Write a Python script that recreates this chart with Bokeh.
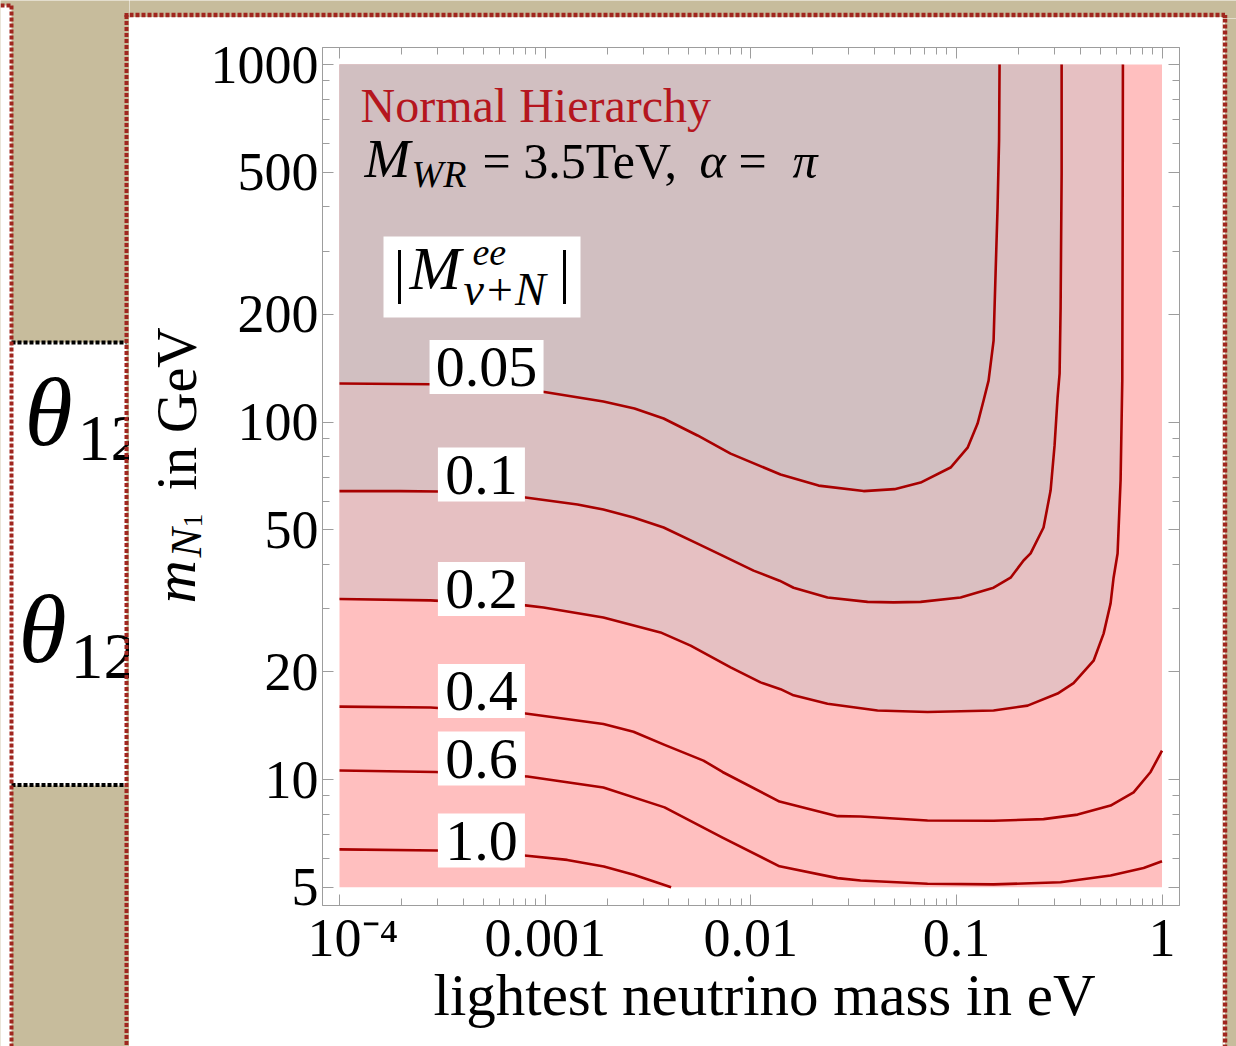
import math
from bokeh.plotting import figure
from bokeh.models import Range1d, LogAxis, FixedTicker, Label, BoxAnnotation
from bokeh.layouts import row, column
from bokeh.embed import file_html
from bokeh.resources import INLINE
from bokeh.core.properties import value

# ---------------------------------------------------------------- data
x_domain = [1e-4, 1.0]        # lightest neutrino mass in eV
y_domain = [5.0, 1000.0]      # m_N1 in GeV

contour_levels = ["0.05", "0.1", "0.2", "0.4", "0.6", "1.0"]

c005_x = [1.0e-4, 1.98e-4, 3.88e-4, 9.93e-4, 1.92e-3, 2.72e-3, 3.77e-3, 5.51e-3, 7.98e-3,
          0.01396, 0.02137, 0.03537, 0.05004, 0.06699, 0.09371, 0.1134, 0.1268, 0.1356,
          0.1434, 0.1517, 0.1551, 0.1586, 0.1613, 0.1622]
c005_y = [128.2, 127.8, 127.3, 121.3, 114.1, 109.1, 102.3, 91.7, 81.6,
          71.3, 66.4, 64.1, 64.9, 67.7, 74.6, 84.8, 99.0, 114.9,
          130.6, 169.0, 260.3, 398.0, 613.0, 1000.0]

c01_x = [1.0e-4, 1.98e-4, 3.03e-4, 8.03e-4, 1.437e-3, 1.92e-3, 2.69e-3, 3.77e-3, 5.51e-3,
         7.29e-3, 0.01032, 0.0138, 0.01615, 0.02363, 0.03699, 0.0495, 0.067, 0.1048,
         0.1517, 0.1835, 0.2122, 0.2296, 0.2654, 0.2872, 0.3003, 0.3106, 0.3177, 0.3213,
         0.325, 0.325]
c01_y = [64.1, 64.1, 63.9, 61.5, 58.8, 56.9, 54.1, 50.7, 45.7,
         42.3, 38.4, 36.0, 34.4, 32.3, 31.4, 31.3, 31.4, 32.3,
         34.4, 36.7, 41.0, 42.9, 50.7, 64.3, 86.0, 117.1, 136.7, 209.0,
         496.0, 1000.0]

c02_x = [1.0e-4, 2.77e-4, 8.03e-4, 9.82e-4, 1.92e-3, 3.64e-3, 5.10e-3, 7.98e-3, 0.01116,
         0.01396, 0.01615, 0.02363, 0.04136, 0.07244, 0.1517, 0.222, 0.3106, 0.3715,
         0.4649, 0.52, 0.5623, 0.5815, 0.6081, 0.6289, 0.641, 0.6433, 0.6455]
c02_y = [32.0, 31.7, 30.7, 30.3, 28.4, 25.8, 23.7, 20.6, 18.7,
         17.9, 17.2, 16.3, 15.6, 15.45, 15.6, 16.1, 17.4, 18.6,
         21.5, 25.6, 31.1, 36.7, 42.9, 68.6, 130.6, 322.0, 1000.0]

c04_x = [1.0e-4, 2.77e-4, 8.03e-4, 1.92e-3, 2.69e-3, 3.81e-3, 5.89e-3, 7.29e-3, 0.0138,
         0.02644, 0.0342, 0.0724, 0.1517, 0.2654, 0.3886, 0.5623, 0.7275, 0.880, 1.0]
c04_y = [16.0, 15.9, 15.3, 14.3, 13.6, 12.5, 11.3, 10.5, 8.68,
         7.90, 7.88, 7.68, 7.67, 7.75, 7.98, 8.46, 9.21, 10.5, 12.05]

c06_x = [1.0e-4, 2.93e-4, 8.21e-4, 1.92e-3, 3.81e-3, 7.29e-3, 0.0138, 0.02644, 0.0342,
         0.0724, 0.1517, 0.321, 0.5623, 0.814, 1.0]
c06_y = [10.6, 10.5, 10.2, 9.5, 8.36, 6.88, 5.72, 5.30, 5.22,
         5.11, 5.09, 5.16, 5.39, 5.66, 5.91]

c10_x = [1.0e-4, 2.99e-4, 7.94e-4, 1.281e-3, 1.93e-3, 2.70e-3, 4.10e-3]
c10_y = [6.38, 6.33, 6.13, 5.96, 5.71, 5.42, 5.0]

# positions of the contour labels (eV, GeV)
label_pos_x = [5.19e-4, 4.9e-4, 4.9e-4, 4.9e-4, 4.9e-4, 4.9e-4]
label_pos_y = [142.5, 71.3, 34.1, 17.7, 11.45, 6.75]

x_major = [1e-4, 1e-3, 1e-2, 1e-1, 1.0]
x_tick_labels = ["\u200210\u207b\u2074", "0.001", "0.01", "0.1", "1"]
x_minor = [k * d for d in [1e-4, 1e-3, 1e-2, 1e-1] for k in [2, 3, 4, 5, 6, 7, 8, 9]]
y_major = [5, 10, 20, 50, 100, 200, 500, 1000]
y_tick_labels = ["5", "10", "20", "50", "100", "200", "500", "1000"]
y_minor = [6, 7, 8, 9, 30, 40, 60, 70, 80, 90, 300, 400, 600, 700, 800, 900]

# ---------------------------------------------------------------- styles
SERIF = "Liberation Serif"
LINE = "#a80000"
FRAME = "#9d9d9d"
TAN = "#c7bc9c"
DOT_RED = "#a0261f"
PINK = "#ffbfbf"
BAND_02 = "#e6c0c2"
BAND_01 = "#dabfc1"
BAND_005 = "#d1bfc1"
MID = 0.3375   # em offset between alphabetic baseline and the "middle" anchor


def dx(px):
    """page-pixel x -> eV (for placing annotations)"""
    return 10 ** (-4 + (px - 339.0) / 205.625)


def dy(py):
    """page-pixel y -> GeV (for placing annotations)"""
    return 10 ** (3 - (py - 64.0) / 357.53)


# ---------------------------------------------------------------- main plot
# occupies page x 204..1222, y 18..972 ; frame x 322..1179, y 47..905
p = figure(width=1018, height=954, x_axis_type="log", y_axis_type="log",
           x_range=Range1d(dx(322), dx(1179)), y_range=Range1d(dy(905), dy(47)),
           output_backend="svg", toolbar_location=None, frame_align=False,
           min_border_left=118, min_border_right=43, min_border_top=29, min_border_bottom=67,
           background_fill_color="white", border_fill_color="white",
           outline_line_color=FRAME, outline_line_width=1)
p.grid.visible = False


def style_axis(ax, major, minor, labels, size, standoff):
    ax.ticker = FixedTicker(ticks=major, minor_ticks=minor)
    ax.major_label_overrides = labels
    ax.major_tick_in = 11
    ax.major_tick_out = 0
    ax.minor_tick_in = 7
    ax.minor_tick_out = 0
    ax.major_tick_line_color = FRAME
    ax.minor_tick_line_color = FRAME
    ax.axis_line_color = FRAME
    ax.major_label_text_font = SERIF
    ax.major_label_text_font_size = size
    ax.major_label_text_color = "black"
    ax.major_label_standoff = standoff


style_axis(p.xaxis[0], x_major, x_minor, dict(zip(x_major, x_tick_labels)), "54px", 2)
style_axis(p.yaxis[0], y_major, y_minor, dict(zip(y_major, y_tick_labels)), "54px", 4)
top_axis = LogAxis()
style_axis(top_axis, x_major, x_minor, {t: "" for t in x_major}, "1px", 0)
p.add_layout(top_axis, "above")
right_axis = LogAxis()
style_axis(right_axis, y_major, y_minor, {t: "" for t in y_major}, "1px", 0)
p.add_layout(right_axis, "right")

# shaded bands
p.quad(left=[x_domain[0]], right=[x_domain[1]], bottom=[y_domain[0]], top=[y_domain[1]],
       fill_color=PINK, line_color=None)
for cx, cy, col in [(c02_x, c02_y, BAND_02), (c01_x, c01_y, BAND_01), (c005_x, c005_y, BAND_005)]:
    p.patch(x=cx + [x_domain[0]], y=cy + [y_domain[1]], fill_color=col, line_color=None)

# contour lines
for cx, cy in [(c005_x, c005_y), (c01_x, c01_y), (c02_x, c02_y),
               (c04_x, c04_y), (c06_x, c06_y), (c10_x, c10_y)]:
    p.line(cx, cy, line_color=LINE, line_width=2.6, line_join="round")

# contour labels
label_box_w = [114, 87, 87, 87, 87, 87]
p.rect(x=label_pos_x, y=label_pos_y, width=label_box_w, height=54,
       width_units="screen", height_units="screen", fill_color="white", line_color=None)
p.text(x=label_pos_x, y=label_pos_y, text=contour_levels, text_font=value(SERIF),
       text_font_size="58px", text_align="center", text_baseline="middle", text_color="black")


def lab(px, baseline, text, size, italic=False, color="black"):
    p.add_layout(Label(x=dx(px), y=dy(baseline - MID * size), text=text, text_font=SERIF,
                       text_font_size=f"{size}px",
                       text_font_style="italic" if italic else "normal",
                       text_color=color, text_align="left", text_baseline="middle"))


# titles inside the frame
lab(360, 121, "Normal Hierarchy", 48, color="#b5161e")
lab(364, 177, "M", 55, italic=True)
lab(411, 186, "WR", 38, italic=True)
lab(482, 177, "= 3.5TeV,", 50)
lab(699, 177, "\u03b1", 50, italic=True)
lab(738, 177, "=", 50)
lab(792, 177, "\u03c0", 50, italic=True)

p.add_layout(BoxAnnotation(left=dx(383), right=dx(580), top=dy(236), bottom=dy(317),
                           fill_color="white", fill_alpha=1.0, line_color=None))
lab(393, 291, "|", 60)
lab(409, 288, "M", 62, italic=True)
lab(472, 265, "ee", 38, italic=True)
lab(463, 305, "\u03bd+N", 46, italic=True)
lab(558, 291, "|", 60)


# ---------------------------------------------------------------- side figures
def deco_fig(w, h, bg, flip=True):
    f = figure(width=w, height=h, x_range=Range1d(0, w),
               y_range=Range1d(h, 0) if flip else Range1d(0, h),
               output_backend="svg", toolbar_location=None, min_border=0, frame_align=False,
               x_axis_location=None, y_axis_location=None, outline_line_color=None,
               background_fill_color=bg, border_fill_color=bg)
    f.grid.visible = False
    return f


def vtext(f, base_x, start_y, text, size, italic=False):
    """rotated (bottom-to-top) text in the y-title figure; page coords -> local"""
    f.text(x=[base_x - MID * size - 129], y=[1046 - start_y], text=[text],
           text_font=value(SERIF), text_font_size=f"{size}px",
           text_font_style="italic" if italic else "normal",
           angle=math.pi / 2, text_align="left", text_baseline="middle")


# y-axis title: page x 129..204, y 18..1046
yl = deco_fig(75, 1028, "white", flip=False)
vtext(yl, 195, 603, "m", 60, italic=True)
vtext(yl, 201, 557, "N", 44, italic=True)
vtext(yl, 202, 527, "1", 28)
vtext(yl, 195, 490, "in GeV", 56)

# x-axis title: page x 204..1222, y 972..1046
xl = deco_fig(1018, 74, "white")
xl.text(x=[764 - 204], y=[1014 - MID * 59 - 972], text=["lightest neutrino mass in eV"],
        text_font=value(SERIF), text_font_size="59px", text_align="center",
        text_baseline="middle")

# slide decoration, left strip: page x 0..129, y 0..1046
lf = deco_fig(129, 1046, TAN)
lf.quad(left=[0, 11], right=[11, 126], top=[5, 342], bottom=[1046, 785],
        fill_color="white", line_color=None)
lf.text(x=[24, 18], y=[445 - MID * 98, 662 - MID * 98], text=["\u03b8", "\u03b8"],
        text_font=value(SERIF), text_font_size="98px", text_font_style="italic",
        text_baseline="middle")
lf.text(x=[77, 70], y=[460 - MID * 66, 678 - MID * 66], text=["12", "12"],
        text_font=value(SERIF), text_font_size="66px", text_baseline="middle")
lf.segment(x0=[11, 11], y0=[342, 784.5], x1=[126, 126], y1=[342, 784.5],
           line_color="black", line_width=4, line_dash="4 2")
lf.segment(x0=[11, 126, 124, 0], y0=[5, 14.5, 14.5, 5], x1=[11, 126, 129, 11],
           y1=[1046, 1046, 14.5, 5], line_color=DOT_RED, line_width=4, line_dash="4 2")

# slide decoration, top strip: page x 129..1236, y 0..18
tf = deco_fig(1107, 18, TAN)
tf.quad(left=[0], right=[1093], top=[16.5], bottom=[18], fill_color="white", line_color=None)
tf.segment(x0=[0, 1095.5], y0=[14.5, 14.5], x1=[1095.5, 1095.5], y1=[14.5, 18],
           line_color=DOT_RED, line_width=4.5, line_dash="4 2")

# slide decoration, right strip: page x 1222..1236, y 18..1046
rf = deco_fig(14, 1028, TAN)
rf.quad(left=[0], right=[2.5], top=[0], bottom=[1028], fill_color="white", line_color=None)
rf.segment(x0=[2.5], y0=[0], x1=[2.5], y1=[1028], line_color=DOT_RED, line_width=4.5,
           line_dash="4 2")

layout = row(lf, column(tf, row(yl, column(p, xl), rf)))

open("out.html", "w").write(file_html(layout, INLINE))
